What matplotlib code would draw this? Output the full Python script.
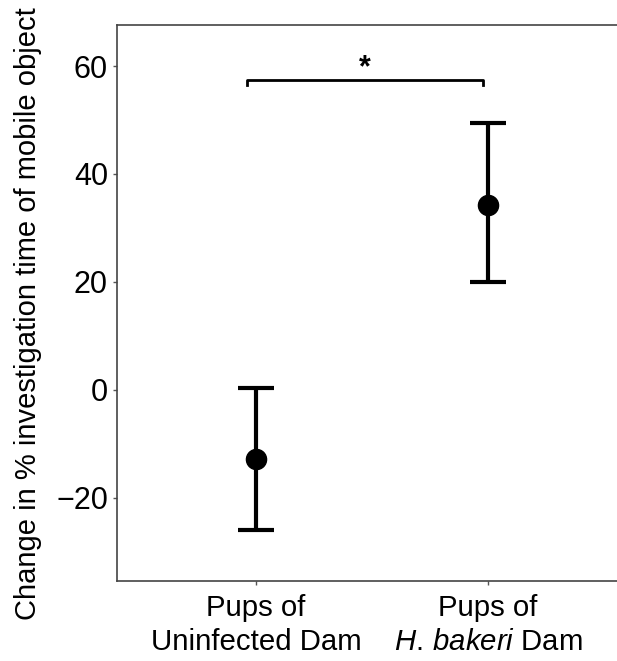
import numpy as np
import matplotlib
matplotlib.use('Agg')
from matplotlib import pyplot as plt

groups = ['Pups of\nUninfected Dam', 'Pups of\n$\\mathit{H.}\\,\\mathit{bakeri}$ Dam']
means = [-12.8, 34.3]
upper = [0.3, 49.4]
lower = [-26.0, 20.0]
yticks = [-20, 0, 20, 40, 60]
bracket_y = 57.4
bracket_drop = 1.0
sig_label = '*'

plt.rcParams['font.family'] = ['Liberation Sans', 'DejaVu Sans']
plt.rcParams['mathtext.fontset'] = 'custom'
plt.rcParams['mathtext.rm'] = 'Liberation Sans'
plt.rcParams['mathtext.it'] = 'Liberation Sans:italic'

fig = plt.figure(figsize=(6.17, 6.61), dpi=100)
ax = fig.add_axes([117/617, 1-581/661, 510/617, 556/661])

x = np.arange(1, len(groups)+1)
m = np.array(means)
err = [m-np.array(lower), np.array(upper)-m]
ax.errorbar(x, m, yerr=err, fmt='o', color='black', ms=14.5, lw=3, capsize=13, capthick=3)

# significance bracket
x0, x1 = 0.96, 1.98
ax.plot([x0, x0, x1, x1], [bracket_y-bracket_drop, bracket_y, bracket_y, bracket_y-bracket_drop],
        color='black', lw=2)
ax.text((x0+x1)/2, bracket_y-0.5, sig_label, ha='center', va='bottom', fontsize=22, fontweight='bold')

ax.set_xlim(0.4, 2.6)
ax.set_ylim(-35.4, 67.6)
ax.set_xticks(x)
ax.set_xticklabels(groups, fontsize=21.2, linespacing=1.28)
ax.set_yticks(yticks)
ax.set_yticklabels(['\u221220' if v == -20 else str(v) for v in yticks], fontsize=22)
ax.set_ylabel('Change in % investigation time of mobile object', fontsize=21)
ax.yaxis.set_label_coords(-0.148, 0.48)
ax.tick_params(length=3, color='#555555', width=1)
ax.tick_params(axis='x', pad=6)
for s in ['left', 'bottom', 'top', 'right']:
    ax.spines[s].set_color('#444444')
    ax.spines[s].set_linewidth(1.2)

fig.savefig('out.png', dpi=100)
